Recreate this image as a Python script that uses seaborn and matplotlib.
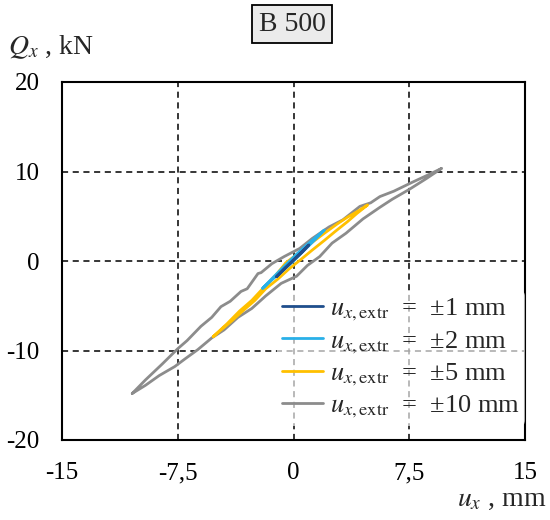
import matplotlib
matplotlib.use("Agg")
import matplotlib.pyplot as plt
import seaborn as sns
import pandas as pd

# ±10 mm loop: upper branch (bottom tip -> top tip), then lower branch back
u10 = [-10.45, -9.6, -8.5, -7.5, -6.9, -6.0, -5.3, -4.7, -4.1, -3.4, -3.0, -2.3, -2.1, -1.4,
       -0.6, 0.4, 1.2, 2.3, 3.2, 4.3, 5.0, 5.6, 6.5, 7.7, 8.7, 9.6,
       8.6, 7.5, 6.4, 5.6, 4.5, 3.4, 2.5, 1.7, 0.9, 0.2, -0.8, -1.8, -2.7, -3.6, -4.5,
       -5.3, -6.2, -7.0, -7.7, -8.7, -9.6, -10.45]
q10 = [-14.8, -13.3, -11.5, -9.8, -8.9, -7.3, -6.3, -5.1, -4.5, -3.4, -3.1, -1.4, -1.3, -0.3,
       0.5, 1.4, 2.5, 3.8, 4.6, 6.1, 6.5, 7.2, 7.8, 8.8, 9.6, 10.35,
       9.2, 8.0, 6.9, 6.0, 4.7, 3.1, 2.0, 0.5, -0.5, -1.7, -2.5, -3.9, -5.3, -6.3, -7.7,
       -8.6, -9.9, -10.9, -11.8, -12.8, -13.9, -14.8]

u5 = [-5.2, -4.3, -3.5, -2.7, -2.0, -1.2, -0.5, 0.5, 1.3, 2.0, 2.8, 3.5, 4.2, 4.8,
      4.1, 3.5, 2.7, 2.0, 1.2, 0.5, -0.3, -1.0, -1.8, -2.5, -3.3, -4.0, -4.7, -5.2]
q5 = [-8.45, -7.0, -5.6, -4.4, -3.1, -1.7, -0.2, 1.1, 2.2, 3.1, 4.1, 4.9, 5.6, 6.26,
      5.3, 4.4, 3.3, 2.3, 1.2, 0.2, -0.9, -2.0, -3.1, -4.4, -5.6, -6.7, -7.7, -8.45]

u2 = [-2.0, -1.3, -0.6, 0.1, 0.8, 1.4, 2.0, 1.4, 0.7, 0.0, -0.7, -1.4, -2.0]
q2 = [-3.05, -1.8, -0.6, 0.6, 1.7, 2.6, 3.46, 2.4, 1.2, 0.0, -1.1, -2.1, -3.05]

u1 = [-1.1, -0.5, 0.1, 0.6, 1.0, 0.5, -0.1, -0.6, -1.1]
q1 = [-1.75, -0.7, 0.3, 1.1, 1.8, 0.9, -0.1, -0.9, -1.75]

labels = [r"$u_{x,\mathrm{extr}}$  =  ±1 mm", r"$u_{x,\mathrm{extr}}$  =  ±2 mm",
          r"$u_{x,\mathrm{extr}}$  =  ±5 mm", r"$u_{x,\mathrm{extr}}$  =  ±10 mm"]
colors = ["#1F4E8C", "#29B0E8", "#FFC000", "#8C8C8C"]

xticks = [-15, -7.5, 0, 7.5, 15]
xticklabels = ["-15", "-7,5", "0", "7,5", "15"]
yticks = [-20, -10, 0, 10, 20]
yticklabels = ["-20", "-10", "0", "10", "20"]

sns.set_style("white")
plt.rcParams["font.family"] = ["Liberation Serif", "DejaVu Serif"]
plt.rcParams["mathtext.fontset"] = "stix"

fig = plt.figure(figsize=(5.5, 5.2), dpi=100)
ax = fig.add_axes([62 / 550, 80 / 520, 463 / 550, 358 / 520])

series = [(u1, q1), (u2, q2), (u5, q5), (u10, q10)]
# draw gray first so the smaller loops sit on top
for i in [3, 2, 1, 0]:
    df = pd.DataFrame({"u": series[i][0], "q": series[i][1]})
    sns.lineplot(data=df, x="u", y="q", sort=False, estimator=None, color=colors[i],
                 lw=2.0, label=labels[i], ax=ax, zorder=3 + (3 - i))

ax.set_xlim(-15, 15)
ax.set_ylim(-20, 20)
ax.set_xticks(xticks)
ax.set_xticklabels(xticklabels)
ax.set_yticks(yticks)
ax.set_yticklabels(yticklabels)
ax.set_xlabel("")
ax.set_ylabel("")
ax.tick_params(direction="inout", length=10, width=1.5, labelsize=18, colors="black", pad=11)
for s in ax.spines.values():
    s.set_visible(True)
    s.set_color("black")
    s.set_linewidth(1.5)
ax.grid(True, color="black", linestyle=(0, (4, 3)), linewidth=1.1)
ax.set_axisbelow(True)

handles, labs = ax.get_legend_handles_labels()
order = [labs.index(l) for l in labels]
leg = ax.legend([handles[k] for k in order], labels, loc="lower right",
                bbox_to_anchor=(1.0, 0.04), fontsize=19, frameon=True, handlelength=1.55,
                handletextpad=0.25, labelspacing=0.22, borderpad=0.2, borderaxespad=0.0)
leg.get_frame().set_facecolor("white")
leg.get_frame().set_alpha(0.65)
leg.get_frame().set_linewidth(0)

fig.text(292 / 550, 1 - 24 / 520, "B 500", ha="center", va="center", fontsize=20,
         bbox=dict(boxstyle="square,pad=0.25", facecolor="#EBEBEB", edgecolor="black", linewidth=1.3))
fig.text(8 / 550, 1 - 47 / 520, r"$Q_x$ , kN", ha="left", va="center", fontsize=20)
fig.text(546 / 550, 1 - 500 / 520, r"$u_x$ , mm", ha="right", va="center", fontsize=20)

fig.savefig("out.png", dpi=100)
